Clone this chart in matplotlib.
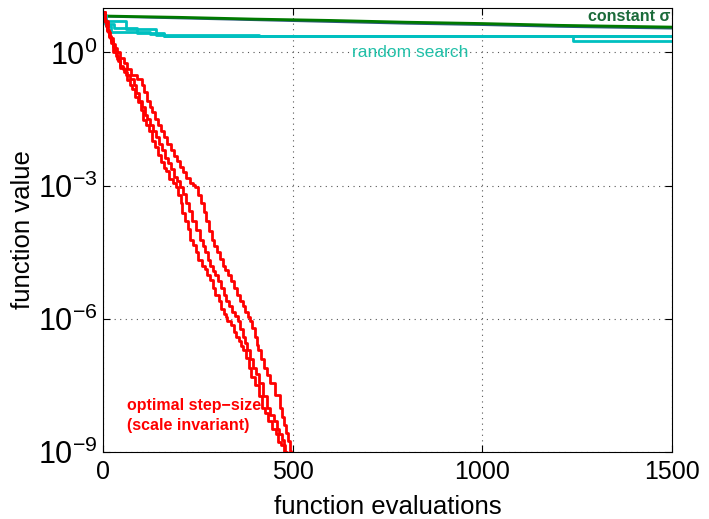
import numpy as np
import matplotlib
matplotlib.use("Agg")
import matplotlib.pyplot as plt
from matplotlib.ticker import FixedLocator, NullLocator

plt.rcParams["font.family"] = ["Liberation Sans", "DejaVu Sans"]
plt.rcParams["mathtext.fontset"] = "custom"
plt.rcParams["mathtext.rm"] = "Liberation Sans"
plt.rcParams["mathtext.it"] = "Liberation Sans:italic"
plt.rcParams["mathtext.bf"] = "Liberation Sans:bold"

# optimal step-size runs: evaluations and log10 of function value
opt_a_evals = [0, 4, 8, 11, 15, 21, 26, 33, 40, 46, 55, 62, 71, 77, 85, 93, 100, 105, 113,
               122, 130, 136, 145, 153, 160, 167, 175, 185, 192, 197, 205, 209, 215, 223, 229,
               238, 245, 251, 260, 268, 274, 283, 290, 296, 305, 311, 318, 323, 327, 337, 345,
               351, 358, 363, 369, 378, 385, 391, 400, 411, 419, 426, 435, 446, 455, 462, 470,
               476, 480]
opt_a_logf = [0.9, 0.72, 0.6, 0.48, 0.35, 0.22, 0.0, -0.08, -0.2, -0.36, -0.45, -0.62, -0.74,
              -0.83, -1.0, -1.12, -1.3, -1.52, -1.64, -1.78, -2.0, -2.12, -2.3, -2.47, -2.6,
              -2.68, -2.85, -2.93, -3.02, -3.22, -3.4, -3.62, -3.8, -3.98, -4.23, -4.33, -4.5,
              -4.67, -4.8, -4.88, -5.02, -5.13, -5.3, -5.47, -5.6, -5.77, -5.9, -5.96, -6.04,
              -6.13, -6.3, -6.42, -6.5, -6.62, -6.71, -6.88, -7.1, -7.32, -7.5, -7.73, -8.0,
              -8.13, -8.3, -8.47, -8.6, -8.77, -8.85, -9.02, -9.2]
opt_b_evals = [0, 6, 10, 15, 20, 27, 32, 38, 45, 52, 60, 70, 82, 88, 95, 103, 110, 117, 124,
               133, 140, 147, 155, 163, 170, 180, 188, 196, 203, 211, 218, 226, 235, 246, 256,
               263, 270, 276, 283, 289, 295, 303, 310, 318, 325, 333, 340, 349, 356, 362, 368,
               374, 380, 388, 395, 402, 410, 421, 432, 441, 450, 458, 465, 471, 477, 481, 485]
opt_b_logf = [0.9, 0.68, 0.5, 0.38, 0.25, 0.12, 0.0, -0.14, -0.3, -0.38, -0.5, -0.6, -0.74,
              -0.92, -1.1, -1.23, -1.4, -1.5, -1.64, -1.76, -1.9, -2.06, -2.2, -2.37, -2.5,
              -2.63, -2.8, -2.9, -3.02, -3.2, -3.4, -3.58, -3.8, -4.0, -4.23, -4.36, -4.5,
              -4.68, -4.8, -4.92, -5.02, -5.14, -5.3, -5.46, -5.6, -5.7, -5.85, -5.93, -6.04,
              -6.22, -6.4, -6.55, -6.71, -6.9, -7.1, -7.25, -7.45, -7.74, -8.0, -8.16, -8.3,
              -8.47, -8.6, -8.72, -8.85, -9.0, -9.2]
opt_c_evals = [0, 5, 12, 18, 25, 31, 37, 46, 55, 64, 75, 90, 103, 109, 115, 123, 130, 138, 145,
               152, 160, 169, 178, 187, 195, 203, 210, 219, 228, 236, 243, 250, 258, 265, 272,
               280, 287, 293, 300, 308, 315, 322, 329, 337, 345, 353, 360, 368, 375, 382, 388,
               394, 400, 405, 409, 417, 425, 432, 440, 453, 467, 473, 478, 483, 487, 492, 496]
opt_c_logf = [0.9, 0.7, 0.45, 0.33, 0.2, 0.1, 0.0, -0.12, -0.25, -0.38, -0.5, -0.6, -0.74,
              -0.9, -1.1, -1.22, -1.35, -1.5, -1.64, -1.76, -1.9, -2.07, -2.2, -2.33, -2.45,
              -2.58, -2.7, -2.83, -2.95, -2.98, -3.02, -3.22, -3.4, -3.6, -3.8, -4.02, -4.23,
              -4.36, -4.5, -4.66, -4.8, -4.9, -5.02, -5.14, -5.3, -5.47, -5.6, -5.72, -5.85,
              -5.96, -6.04, -6.2, -6.4, -6.58, -6.71, -6.9, -7.1, -7.26, -7.45, -7.72, -8.0,
              -8.2, -8.4, -8.58, -8.75, -8.98, -9.2]

# random search runs
rs_a_evals = [0, 5, 30, 90, 160, 410, 1500]
rs_a_logf = [0.85, 0.65, 0.54, 0.43, 0.38, 0.36, 0.36]
rs_b_evals = [0, 8, 20, 125, 160, 410, 1239, 1500]
rs_b_logf = [0.85, 0.6, 0.45, 0.41, 0.38, 0.36, 0.25, 0.25]
rs_c_evals = [0, 3, 60, 140, 410, 1500]
rs_c_logf = [0.85, 0.7, 0.52, 0.40, 0.36, 0.36]

# constant sigma runs
cs_evals = [0, 200, 400, 600, 800, 1000, 1200, 1500]
cs_a_logf = [0.82, 0.79, 0.75, 0.72, 0.68, 0.65, 0.61, 0.57]
cs_b_logf = [0.81, 0.77, 0.73, 0.69, 0.65, 0.62, 0.58, 0.54]

fig = plt.figure(figsize=(7.09, 5.19), dpi=100)
ax = fig.add_axes([0.1453, 0.129, 0.9478 - 0.1453, 0.9846 - 0.129])

ax.plot(cs_evals, 10.0 ** np.array(cs_b_logf), color="#2a5a78", lw=1.6)
ax.plot(cs_evals, 10.0 ** np.array(cs_a_logf), color="#007a00", lw=2.0)

for ev, lf in [(rs_a_evals, rs_a_logf), (rs_b_evals, rs_b_logf), (rs_c_evals, rs_c_logf)]:
    ax.plot(ev, 10.0 ** np.array(lf), color="#00c0c0", lw=2.0, drawstyle="steps-post")

for ev, lf in [(opt_a_evals, opt_a_logf), (opt_b_evals, opt_b_logf), (opt_c_evals, opt_c_logf)]:
    ax.plot(ev, 10.0 ** np.array(lf), color="#ff0000", lw=2.0, drawstyle="steps-post")

ax.set_yscale("log")
ax.set_xlim(0, 1500)
ax.set_ylim(1e-9, 10)
ax.yaxis.set_major_locator(FixedLocator([1e-9, 1e-6, 1e-3, 1e0]))
ax.yaxis.set_minor_locator(NullLocator())
ax.set_yticklabels([r"$10^{-9}$", r"$10^{-6}$", r"$10^{-3}$", r"$10^{0}$"])
ax.set_xticks([0, 500, 1000, 1500])
ax.tick_params(direction="in", top=True, right=True, length=5, pad=6)
ax.tick_params(axis="x", labelsize=18)
ax.tick_params(axis="y", labelsize=22, pad=4)
ax.grid(True, linestyle=(0, (1, 4)), color="#555555", linewidth=0.8)

ax.set_xlabel("function evaluations", fontsize=18.5, labelpad=8)
ax.set_ylabel("function value", fontsize=18.5, labelpad=2)

ax.text(1495, 10 ** 0.8, "constant σ", color="#1b6b3a", fontsize=11.5, weight="bold",
        ha="right", va="center")
ax.text(809, 10 ** 0.0, "random search", color="#20c0a8", fontsize=12.5,
        ha="center", va="center")
ax.text(63, 10 ** -7.95, "optimal step\u2212size", color="#ff0000", fontsize=11.5,
        weight="bold", ha="left", va="center")
ax.text(63, 10 ** -8.4, "(scale invariant)", color="#ff0000", fontsize=11.5,
        weight="bold", ha="left", va="center")

fig.savefig("out.png", dpi=100)
